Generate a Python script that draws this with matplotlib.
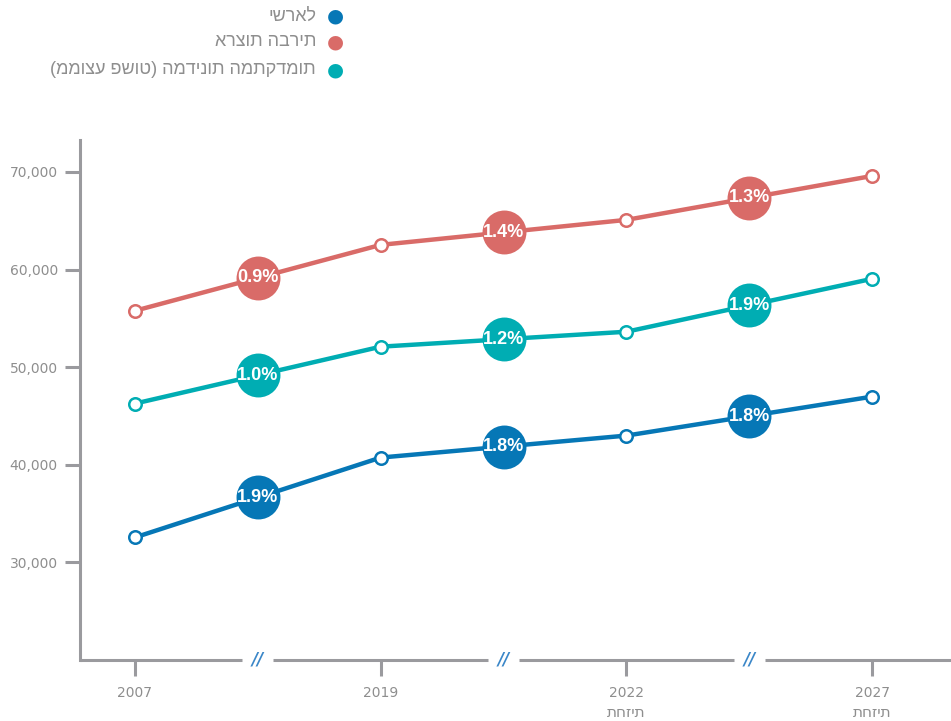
import matplotlib
matplotlib.use("Agg")
import matplotlib.pyplot as plt
import numpy as np

years = ["2007", "2019", "2022", "2027"]
year_notes = ["", "", "תחזית", "תחזית"]
series_names = ["ישראל", "ארצות הברית", "(ממוצע פשוט) המדינות המתקדמות"]
israel = [32560, 40740, 42990, 46980]
usa = [55780, 62530, 65090, 69590]
advanced = [46270, 52100, 53630, 59050]
israel_growth = ["1.9%", "1.8%", "1.8%"]
usa_growth = ["0.9%", "1.4%", "1.3%"]
advanced_growth = ["1.0%", "1.2%", "1.9%"]
yticks = [30000, 40000, 50000, 60000, 70000]

colors = ["#0677b6", "#d96b68", "#00adb3"]
gray = "#9a9a9e"
text_gray = "#8e8e8e"

fig = plt.figure(figsize=(9.51, 7.21), dpi=100)
# axes: left x=80, right x=951, bottom y=660, top y=140
ax = fig.add_axes([80/951, 1-660/721, (951-80)/951, (660-140)/721])
xpos = np.arange(len(years))
x_left = (80-135)/245.7
x_right = (951-135)/245.7
ylo = 20000
yhi = 70000 + (172-140)/9.775*1000
ax.set_xlim(x_left, x_right)
ax.set_ylim(ylo, yhi)

for vals, growth, c in [(usa, usa_growth, colors[1]), (advanced, advanced_growth, colors[2]), (israel, israel_growth, colors[0])]:
    ax.plot(xpos, vals, color=c, lw=3.2, zorder=3, solid_capstyle="round")
    ax.plot(xpos, vals, ls="none", marker="o", ms=9, mfc="white", mec=c, mew=1.8, zorder=4)
    mids_x = (xpos[:-1] + xpos[1:]) / 2
    mids_y = [(vals[i] + vals[i+1]) / 2 for i in range(len(vals)-1)]
    ax.scatter(mids_x, mids_y, s=1000, color=c, zorder=5, linewidths=0)
    for mx, my, g in zip(mids_x, mids_y, growth):
        ax.text(mx, my, g, color="white", fontsize=13, fontweight="bold",
                ha="center", va="center", zorder=6,
                family=["Liberation Sans", "DejaVu Sans"])

# spines
for s in ["top", "right", "bottom"]:
    ax.spines[s].set_visible(False)
ax.spines["left"].set_color(gray)
ax.spines["left"].set_linewidth(2.2)

ax.set_yticks(yticks)
ax.set_yticklabels([f"{v:,}" for v in yticks])
ax.tick_params(axis="y", length=11, width=2.2, color=gray, labelcolor=text_gray,
               labelsize=10, pad=5)
ax.set_xticks([])

# bottom axis line with breaks
half_gap = 15.5/245.7
breaks = [0.5, 1.5, 2.5]
edges = [x_left] + [v for b in breaks for v in (b - half_gap, b + half_gap)] + [x_right]
for i in range(0, len(edges), 2):
    ax.plot([edges[i], edges[i+1]], [ylo, ylo], color=gray, lw=2.2, clip_on=False,
            solid_capstyle="butt", zorder=2)
for b in breaks:
    ax.text(b, ylo, "//", color="#3b87c8", fontsize=12, fontweight="bold", style="italic",
            ha="center", va="center", clip_on=False)
tick_len = 16/9.775*1000
for x, yl, note in zip(xpos, years, year_notes):
    ax.plot([x, x], [ylo, ylo - tick_len], color=gray, lw=2.2, clip_on=False, solid_capstyle="butt")
    ax.annotate(yl, (x, ylo), xytext=(0, -23.5), textcoords="offset points", ha="center",
                va="center", color=text_gray, fontsize=10)
    if note:
        ax.annotate(note, (x, ylo), xytext=(0, -37.5), textcoords="offset points",
                    ha="center", va="center", color=text_gray, fontsize=11)

# legend
leg_y = [16, 42, 70]
for name, c, yy in zip(series_names, colors, leg_y):
    fig.text(335/951, 1-yy/721, "●", color=c, fontsize=14, ha="center", va="center")
    fig.text(316/951, 1-yy/721, name, color=text_gray, fontsize=13, ha="right",
             va="center", family=["Liberation Sans", "DejaVu Sans"])

fig.savefig("out.png", dpi=100, facecolor="white")
